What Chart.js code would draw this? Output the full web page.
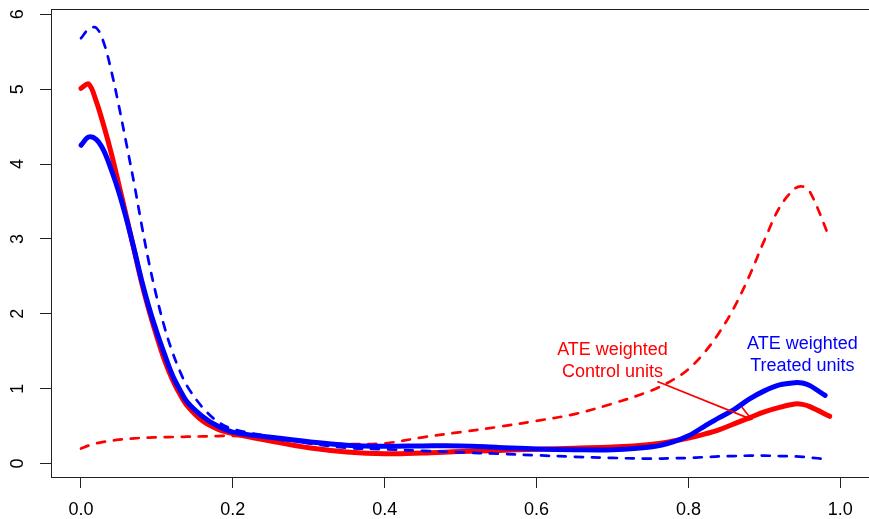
<!DOCTYPE html>
<html><head><meta charset="utf-8">
<script src="https://cdn.jsdelivr.net/npm/chart.js@4"></script>
<style>html,body{margin:0;padding:0;background:#fff;overflow:hidden;} #wrap{width:900px;height:519px;}</style>
</head><body><div id="wrap"><canvas id="c" width="900" height="519"></canvas></div>
<script>
const xControl = [0,0.01,0.02,0.03,0.04,0.05,0.06,0.07,0.08,0.09,0.10,0.11,0.12,0.13,0.14,0.16,0.18,0.20,0.25,0.30,0.35,0.40,0.45,0.50,0.55,0.60,0.65,0.70,0.75,0.78,0.80,0.82,0.84,0.86,0.88,0.90,0.92,0.94,0.95,0.96,0.986];
const xTreated = [0,0.01,0.02,0.03,0.04,0.05,0.06,0.07,0.08,0.09,0.10,0.11,0.12,0.13,0.14,0.16,0.18,0.20,0.25,0.30,0.35,0.40,0.45,0.50,0.55,0.60,0.65,0.70,0.75,0.78,0.80,0.82,0.84,0.86,0.88,0.90,0.92,0.94,0.95,0.96,0.98];
// red solid: ATE weighted control units
const controlWeighted = [5.01,5.07,4.84,4.51,4.14,3.72,3.29,2.85,2.41,2.03,1.69,1.38,1.13,0.93,0.77,0.57,0.46,0.40,0.30,0.21,0.155,0.13,0.14,0.16,0.175,0.19,0.205,0.22,0.255,0.30,0.34,0.39,0.45,0.53,0.61,0.69,0.75,0.795,0.79,0.76,0.63];
// red dashed: unweighted control units
const controlRaw = [0.20,0.24,0.27,0.29,0.305,0.318,0.328,0.337,0.343,0.347,0.35,0.352,0.354,0.356,0.358,0.362,0.366,0.37,0.34,0.285,0.26,0.27,0.35,0.42,0.49,0.57,0.66,0.80,0.97,1.12,1.26,1.47,1.74,2.08,2.50,2.98,3.42,3.67,3.70,3.63,3.01];
// blue solid: ATE weighted treated units
const treatedWeighted = [4.25,4.36,4.33,4.18,3.92,3.62,3.26,2.86,2.44,2.07,1.75,1.46,1.19,0.99,0.82,0.63,0.50,0.42,0.35,0.29,0.245,0.23,0.235,0.235,0.215,0.195,0.185,0.185,0.22,0.29,0.37,0.49,0.61,0.72,0.86,0.97,1.05,1.08,1.075,1.04,0.91];
// blue dashed: unweighted treated units
const treatedRaw = [5.68,5.80,5.82,5.62,5.24,4.77,4.26,3.74,3.18,2.66,2.21,1.82,1.50,1.24,1.03,0.75,0.56,0.46,0.36,0.27,0.21,0.19,0.17,0.15,0.13,0.11,0.09,0.075,0.065,0.07,0.075,0.085,0.095,0.10,0.105,0.105,0.10,0.095,0.09,0.08,0.06];
const xTicks = [0,0.2,0.4,0.6,0.8,1.0];
const yTicks = [0,1,2,3,4,5,6];
const controlLabel = ["ATE weighted","Control units"];
const treatedLabel = ["ATE weighted","Treated units"];
const controlLabelAt = [0.700, 1.445];
const treatedLabelAt = [0.950, 1.536];
const arrowFrom = [0.760, 1.092];
const arrowTo = [0.883, 0.59];

const RED = '#FF0000', BLUE = '#0000FF', AXIS = '#222222';
const FONT = "'Liberation Sans', Arial, Helvetica, sans-serif";
const pts = (xs, ys) => xs.map((x, i) => ({x: x, y: ys[i]}));

const boxPlugin = {
  id: 'box',
  beforeDatasetsDraw(chart) {
    const a = chart.chartArea, ctx = chart.ctx;
    ctx.save();
    ctx.strokeStyle = AXIS; ctx.lineWidth = 1;
    ctx.strokeRect(Math.round(a.left) + 0.5, Math.round(a.top) + 0.5, a.right - a.left, a.bottom - a.top);
    ctx.restore();
  }
};
const notePlugin = {
  id: 'notes',
  afterDatasetsDraw(chart) {
    const ctx = chart.ctx, xs = chart.scales.x, ys = chart.scales.y;
    ctx.save();
    ctx.font = '18px ' + FONT;
    ctx.textAlign = 'center'; ctx.textBaseline = 'alphabetic';
    const drawLabel = (lines, at, color) => {
      ctx.fillStyle = color;
      const px = xs.getPixelForValue(at[0]), py = ys.getPixelForValue(at[1]);
      lines.forEach((t, i) => ctx.fillText(t, px, py + i * 22));
    };
    drawLabel(controlLabel, controlLabelAt, RED);
    drawLabel(treatedLabel, treatedLabelAt, BLUE);
    const x0 = xs.getPixelForValue(arrowFrom[0]), y0 = ys.getPixelForValue(arrowFrom[1]);
    const x1 = xs.getPixelForValue(arrowTo[0]), y1 = ys.getPixelForValue(arrowTo[1]);
    ctx.strokeStyle = RED; ctx.lineWidth = 1.7; ctx.lineCap = 'round';
    ctx.beginPath(); ctx.moveTo(x0, y0); ctx.lineTo(x1, y1);
    const ang = Math.atan2(y1 - y0, x1 - x0), L = 15, s = Math.PI / 6;
    ctx.moveTo(x1 - L * Math.cos(ang - s), y1 - L * Math.sin(ang - s));
    ctx.lineTo(x1, y1);
    ctx.lineTo(x1 - L * Math.cos(ang + s), y1 - L * Math.sin(ang + s));
    ctx.stroke();
    ctx.restore();
  }
};

const ds = (label, xs, ys, color, dashed, order) => ({
  label: label, data: pts(xs, ys), borderColor: color, backgroundColor: color,
  borderWidth: dashed ? 2.7 : 5, borderDash: dashed ? [8, 9] : [],
  borderCapStyle: 'round', borderJoinStyle: 'round',
  pointRadius: 0, tension: 0.35, fill: false, order: order
});

new Chart(document.getElementById('c'), {
  type: 'line',
  data: { datasets: [
    ds('Control weighted', xControl, controlWeighted, RED, false, 3),
    ds('Control', xControl, controlRaw, RED, true, 2),
    ds('Treated weighted', xTreated, treatedWeighted, BLUE, false, 1),
    ds('Treated', xTreated, treatedRaw, BLUE, true, 0)
  ]},
  options: {
    responsive: false, animation: false, devicePixelRatio: 1,
    layout: { padding: { top: 9, right: 20, left: 0, bottom: 0 } },
    plugins: { legend: { display: false }, tooltip: { enabled: false } },
    scales: {
      x: {
        type: 'linear', min: -0.0395, max: 1.0523,
        afterBuildTicks: s => { s.ticks = xTicks.map(v => ({value: v})); },
        afterFit: s => { s.height = 42; s.paddingLeft = 0; s.paddingRight = 0; },
        grid: { display: true, drawOnChartArea: false, drawTicks: true, tickLength: 11, color: AXIS, lineWidth: 1 },
        border: { display: true, color: AXIS, width: 1 },
        ticks: { color: '#000', font: { family: FONT, size: 18 }, padding: 11, maxRotation: 0, minRotation: 0,
                 callback: v => Number(v).toFixed(1) }
      },
      y: {
        type: 'linear', min: -0.18, max: 6.07,
        afterBuildTicks: s => { s.ticks = yTicks.map(v => ({value: v})); },
        afterFit: s => { s.width = 51; s.paddingTop = 0; s.paddingBottom = 0; },
        grid: { display: true, drawOnChartArea: false, drawTicks: true, tickLength: 11, color: AXIS, lineWidth: 1 },
        border: { display: true, color: AXIS, width: 1 },
        ticks: { color: '#000', font: { family: FONT, size: 18 }, padding: 17, minRotation: 90, maxRotation: 90,
                 crossAlign: 'center', callback: v => String(v) }
      }
    }
  },
  plugins: [boxPlugin, notePlugin]
});
</script>
</body></html>
